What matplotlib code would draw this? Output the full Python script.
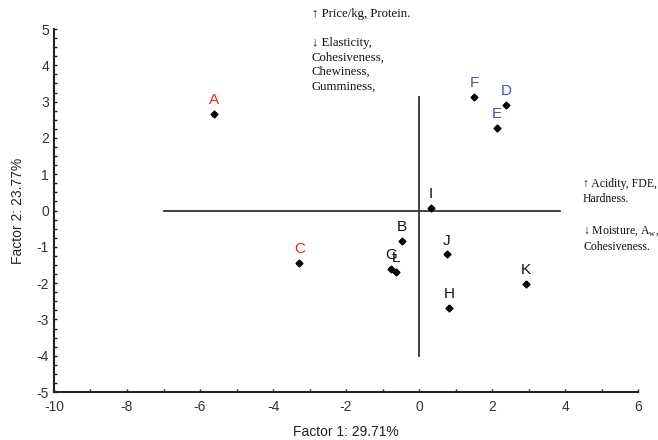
import matplotlib
matplotlib.use("Agg")
import matplotlib.pyplot as plt
from matplotlib.ticker import MultipleLocator

# sample scores on the first two factors
labels = ["A", "B", "C", "D", "E", "F", "G", "H", "I", "J", "K", "L"]
f1 = [-5.62, -0.47, -3.28, 2.38, 2.13, 1.50, -0.77, 0.82, 0.33, 0.75, 2.92, -0.64]
f2 = [2.65, -0.84, -1.44, 2.90, 2.28, 3.13, -1.61, -2.68, 0.08, -1.21, -2.02, -1.69]
red = ["A", "C"]
blue = ["D", "E", "F"]

# reference cross
hline_x = [-7.0, 3.87]
vline_y = [-4.0, 3.13]

top_note = "\u2191 Price/kg, Protein.\n\n\u2193 Elasticity,\nCohesiveness,\nChewiness,\nGumminess,"
right_note = "\u2191 Acidity, FDE,\nHardness.\n\n\u2193 Moisture, A$_{\\mathrm{w}}$,\nCohesiveness."

plt.rcParams['font.family'] = ['Liberation Sans', 'DejaVu Sans']
plt.rcParams['mathtext.fontset'] = 'custom'
plt.rcParams['mathtext.rm'] = 'Liberation Serif'
plt.rcParams['axes.unicode_minus'] = False

fig = plt.figure(figsize=(6.58, 4.40), dpi=100)
ax = fig.add_axes([0.082, 0.109, 0.888, 0.825])

ax.plot(hline_x, [0, 0], color="#333333", lw=1.3)
ax.plot([0, 0], vline_y, color="#333333", lw=1.3)

ax.plot(f1, f2, ls="none", marker="D", ms=3.5, color="black")
for lab, x, y in zip(labels, f1, f2):
    c = "#ee2222" if lab in red else ("#4455aa" if lab in blue else "#111111")
    ax.annotate(lab, (x, y), xytext=(0, 5), textcoords="offset points",
                ha="center", va="bottom", fontsize=11, color=c)

ax.set_xlim(-10, 6)
ax.set_ylim(-5, 5)
ax.xaxis.set_major_locator(MultipleLocator(2))
ax.xaxis.set_minor_locator(MultipleLocator(1))
ax.yaxis.set_major_locator(MultipleLocator(1))
ax.yaxis.set_minor_locator(MultipleLocator(0.25))
ax.tick_params(which="both", direction="in", length=2.5, width=1, colors="#222222", labelsize=10, labelcolor="#333333")
ax.tick_params(axis="x", pad=6)
for s in ["top", "right"]:
    ax.spines[s].set_visible(False)
for s in ["left", "bottom"]:
    ax.spines[s].set_linewidth(1.5)
    ax.spines[s].set_color("#222222")

ax.set_xlabel("Factor 1: 29.71%", fontsize=10, color="#222222", labelpad=8)
ax.set_ylabel("Factor 2: 23.77%", fontsize=10, color="#222222", labelpad=8)

fig.text(312 / 658, 1 - 8 / 440, top_note, ha="left", va="top", fontsize=9.2,
         family=['Liberation Serif', 'DejaVu Serif'], linespacing=1.28, color="#111111")
fig.text(583 / 658, 1 - 178 / 440, right_note, ha="left", va="top", fontsize=8.5,
         family=['Liberation Serif', 'DejaVu Serif'], linespacing=1.38, color="#111111")

fig.savefig("out.png", dpi=100)
